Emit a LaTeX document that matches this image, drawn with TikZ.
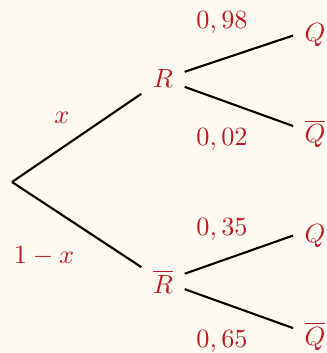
\documentclass[tikz,border=0pt]{standalone}
\usepackage{xcolor}
\definecolor{bgc}{HTML}{FEFAF1}
\definecolor{txt}{HTML}{BF1822}
\begin{document}
\begin{tikzpicture}[x=0.38pt,y=-0.38pt,
  lbl/.style={anchor=base,text=txt,inner sep=4.2pt},
  prob/.style={anchor=base,text=txt,inner sep=0pt},
  branch/.style={line width=0.8pt,black}]
\fill[bgc] (0,0) rectangle (326,353);
\useasboundingbox (0,0) rectangle (326,353);
\coordinate (root) at (12,182);
\node[lbl] (R) at (163,88) {$R$};
\node[lbl] (Rb) at (163,293) {$\overline{R}$};
\node[lbl] (Q1) at (315,42) {$Q$};
\node[lbl] (Qb1) at (315,143) {$\overline{Q}$};
\node[lbl] (Q2) at (315,242) {$Q$};
\node[lbl] (Qb2) at (315,345) {$\overline{Q}$};
\draw[branch] (root) -- (R);
\draw[branch] (root) -- (Rb);
\draw[branch] (R) -- (Q1.west);
\draw[branch] (R) -- (Qb1);
\draw[branch] (Rb) -- (Q2.west);
\draw[branch] (Rb) -- (Qb2);
\node[prob] (px) at (62,124) {$x$};
\node[prob] (p1x) at (44,263) {$1-x$};
\node[prob] (p98) at (222,29) {$0,98$};
\node[prob] (p02) at (222,145) {$0,02$};
\node[prob] (p35) at (222,235) {$0,35$};
\node[prob] (p65) at (222,347) {$0,65$};
\end{tikzpicture}
\end{document}
